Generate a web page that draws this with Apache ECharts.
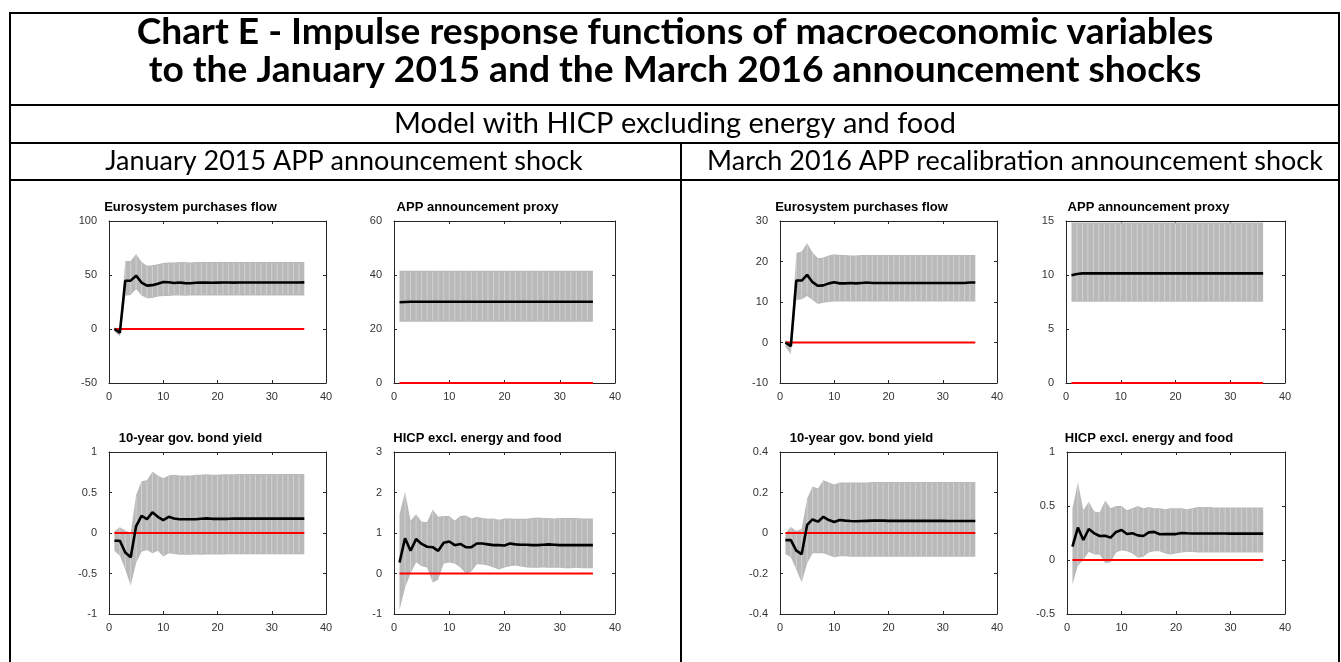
<!DOCTYPE html>
<html>
<head>
<meta charset="utf-8">
<script src="https://cdn.jsdelivr.net/npm/echarts/dist/echarts.min.js"></script>
<style>
  html, body { margin: 0; padding: 0; background: #ffffff; }
  #chart { width: 1341px; height: 662px; }
</style>
</head>
<body>
<div id="chart"></div>
<script>
// Forecast horizon (months after the shock)
const horizon = [1,2,3,4,5,6,7,8,9,10,11,12,13,14,15,16,17,18,19,20,21,22,23,24,25,26,27,28,29,30,31,32,33,34,35,36];

// ---- January 2015 APP announcement shock ----
const janFlowMid = [0,-3.5,44.7,44.8,49.4,43,40.2,40.6,42,43.5,43.3,42.6,43,42.5,42.3,42.8,43,42.9,42.8,42.9,43,43,42.9,43,43,43,43,43,43,43,43,43,43,43,43,43.2];
const janFlowHi  = [1.5,0.5,63,63,69.5,62,58.5,59,60,61,61.5,61.5,62,62,61.5,62,62,62,62,62,62,62,62,62,62,62,62,62,62,62,62,62,62,62,62,62];
const janFlowLo  = [-2,-7,30.8,31.5,37,31,28.4,28.8,30,30.5,30.5,31,31,30.8,31,31,31,31,31,31,31,31,31,31,31,31,31,31,31,31,31,31,31,31,31,31];

const janProxyMid = [29.9,30,30.1,30.1,30.1,30.1,30.1,30.1,30.1,30.1,30.1,30.1,30.1,30.1,30.1,30.1,30.1,30.1,30.1,30.1,30.1,30.1,30.1,30.1,30.1,30.1,30.1,30.1,30.1,30.1,30.1,30.1,30.1,30.1,30.1,30.1];
const janProxyHi  = [41.6,41.6,41.6,41.6,41.6,41.6,41.6,41.6,41.6,41.6,41.6,41.6,41.6,41.6,41.6,41.6,41.6,41.6,41.6,41.6,41.6,41.6,41.6,41.6,41.6,41.6,41.6,41.6,41.6,41.6,41.6,41.6,41.6,41.6,41.6,41.6];
const janProxyLo  = [22.7,22.7,22.7,22.7,22.7,22.7,22.7,22.7,22.7,22.7,22.7,22.7,22.7,22.7,22.7,22.7,22.7,22.7,22.7,22.7,22.7,22.7,22.7,22.7,22.7,22.7,22.7,22.7,22.7,22.7,22.7,22.7,22.7,22.7,22.7,22.7];

const janYieldMid = [-0.095,-0.095,-0.24,-0.30,0.086,0.21,0.17,0.255,0.20,0.16,0.20,0.18,0.17,0.17,0.17,0.17,0.175,0.18,0.175,0.175,0.175,0.175,0.177,0.177,0.177,0.177,0.177,0.177,0.177,0.177,0.177,0.177,0.177,0.177,0.177,0.177];
const janYieldHi  = [0.02,0.07,0.03,0.0,0.47,0.64,0.65,0.757,0.71,0.675,0.71,0.72,0.71,0.71,0.71,0.72,0.72,0.725,0.72,0.72,0.725,0.725,0.725,0.728,0.728,0.728,0.728,0.728,0.728,0.728,0.728,0.728,0.728,0.728,0.728,0.728];
const janYieldLo  = [-0.22,-0.28,-0.45,-0.65,-0.37,-0.23,-0.21,-0.25,-0.22,-0.29,-0.25,-0.26,-0.27,-0.27,-0.27,-0.265,-0.27,-0.265,-0.265,-0.265,-0.265,-0.263,-0.263,-0.263,-0.263,-0.263,-0.263,-0.263,-0.263,-0.263,-0.263,-0.263,-0.263,-0.263,-0.263,-0.263];

const janHicpMid = [0.27,0.87,0.56,0.85,0.73,0.66,0.65,0.56,0.76,0.79,0.70,0.73,0.65,0.65,0.74,0.74,0.72,0.70,0.70,0.69,0.74,0.72,0.71,0.71,0.70,0.70,0.71,0.72,0.71,0.70,0.70,0.70,0.70,0.70,0.70,0.70];
const janHicpHi  = [1.46,2.02,1.30,1.46,1.28,1.27,1.58,1.40,1.42,1.42,1.30,1.42,1.43,1.36,1.40,1.37,1.35,1.36,1.33,1.36,1.36,1.35,1.35,1.35,1.37,1.38,1.37,1.37,1.36,1.37,1.37,1.37,1.37,1.36,1.36,1.36];
const janHicpLo  = [-0.90,-0.35,0.0,0.28,0.18,0.15,-0.23,-0.15,0.25,0.27,0.25,0.15,0.0,0.05,0.23,0.22,0.20,0.15,0.10,0.15,0.18,0.20,0.17,0.15,0.14,0.14,0.15,0.14,0.14,0.14,0.13,0.13,0.14,0.13,0.13,0.13];

// ---- March 2016 APP recalibration announcement shock ----
const marFlowMid = [0,-0.9,15.3,15.3,16.7,14.9,14.0,14.1,14.6,14.9,14.6,14.6,14.7,14.6,14.7,14.8,14.7,14.7,14.7,14.7,14.7,14.7,14.7,14.7,14.7,14.7,14.7,14.7,14.7,14.7,14.7,14.7,14.7,14.7,14.8,14.8];
const marFlowHi  = [0.5,0.2,22.1,22.5,24.5,22.2,20.8,21.0,21.5,21.8,21.6,21.6,21.5,21.5,21.6,21.6,21.6,21.6,21.6,21.6,21.6,21.6,21.6,21.6,21.6,21.6,21.6,21.6,21.6,21.6,21.6,21.6,21.6,21.6,21.6,21.6];
const marFlowLo  = [-1,-2.9,10.5,10.7,11.5,10.5,9.5,9.8,10.0,10.1,10.1,10.1,10.1,10.1,10.1,10.1,10.1,10.1,10.1,10.1,10.1,10.1,10.1,10.1,10.1,10.1,10.1,10.1,10.1,10.1,10.1,10.1,10.1,10.1,10.1,10.1];

const marProxyMid = [9.97,10.1,10.15,10.15,10.15,10.15,10.15,10.15,10.15,10.15,10.15,10.15,10.15,10.15,10.15,10.15,10.15,10.15,10.15,10.15,10.15,10.15,10.15,10.15,10.15,10.15,10.15,10.15,10.15,10.15,10.15,10.15,10.15,10.15,10.15,10.15];
const marProxyHi  = [14.85,14.85,14.85,14.85,14.85,14.85,14.85,14.85,14.85,14.85,14.85,14.85,14.85,14.85,14.85,14.85,14.85,14.85,14.85,14.85,14.85,14.85,14.85,14.85,14.85,14.85,14.85,14.85,14.85,14.85,14.85,14.85,14.85,14.85,14.85,14.85];
const marProxyLo  = [7.53,7.53,7.53,7.53,7.53,7.53,7.53,7.53,7.53,7.53,7.53,7.53,7.53,7.53,7.53,7.53,7.53,7.53,7.53,7.53,7.53,7.53,7.53,7.53,7.53,7.53,7.53,7.53,7.53,7.53,7.53,7.53,7.53,7.53,7.53,7.53];

const marYieldMid = [-0.035,-0.035,-0.087,-0.104,0.04,0.067,0.056,0.08,0.064,0.054,0.064,0.061,0.059,0.058,0.059,0.06,0.061,0.062,0.061,0.06,0.06,0.06,0.06,0.06,0.06,0.06,0.06,0.06,0.06,0.06,0.059,0.059,0.059,0.059,0.059,0.059];
const marYieldHi  = [0.0,0.03,0.01,0.02,0.17,0.23,0.22,0.26,0.25,0.24,0.25,0.25,0.25,0.25,0.25,0.25,0.252,0.252,0.252,0.252,0.252,0.252,0.252,0.252,0.252,0.252,0.252,0.252,0.252,0.252,0.252,0.252,0.252,0.252,0.252,0.252];
const marYieldLo  = [-0.104,-0.12,-0.18,-0.245,-0.15,-0.10,-0.10,-0.10,-0.11,-0.12,-0.115,-0.115,-0.117,-0.117,-0.117,-0.117,-0.117,-0.117,-0.117,-0.117,-0.117,-0.117,-0.117,-0.117,-0.117,-0.117,-0.117,-0.117,-0.117,-0.117,-0.117,-0.117,-0.117,-0.117,-0.117,-0.117];

const marHicpMid = [0.123,0.30,0.185,0.287,0.247,0.222,0.225,0.207,0.26,0.278,0.24,0.247,0.228,0.222,0.256,0.26,0.238,0.24,0.24,0.24,0.25,0.247,0.245,0.245,0.245,0.246,0.245,0.245,0.245,0.244,0.244,0.244,0.244,0.244,0.244,0.244];
const marHicpHi  = [0.478,0.72,0.46,0.54,0.45,0.44,0.55,0.48,0.50,0.50,0.46,0.48,0.50,0.48,0.49,0.48,0.48,0.47,0.48,0.48,0.48,0.47,0.48,0.49,0.49,0.49,0.485,0.485,0.485,0.485,0.485,0.485,0.485,0.485,0.485,0.485];
const marHicpLo  = [-0.225,-0.05,0.0,0.077,0.05,0.05,-0.03,-0.02,0.07,0.09,0.08,0.06,0.02,0.03,0.07,0.08,0.08,0.06,0.05,0.06,0.07,0.075,0.075,0.07,0.07,0.07,0.07,0.07,0.07,0.07,0.07,0.07,0.07,0.07,0.07,0.07];

// Panel titles and y-axis scales
const panelTitles = ['Eurosystem purchases flow','APP announcement proxy','10-year gov. bond yield','HICP excl. energy and food'];
const janYMin = [-50, 0, -1, -1],   janYMax = [100, 60, 1, 3],    janYStep = [50, 20, 0.5, 1];
const marYMin = [-10, 0, -0.4, -0.5], marYMax = [30, 15, 0.4, 1], marYStep = [10, 5, 0.2, 0.5];
const xMin = 0, xMax = 40, xStep = 10;

// Header texts
const chartTitle = ['Chart E - Impulse response functions of macroeconomic variables',
                    'to the January 2015 and the March 2016 announcement shocks'];
const modelLabel = 'Model with HICP excluding energy and food';
const shockLabels = ['January 2015 APP announcement shock', 'March 2016 APP recalibration announcement shock'];

// ---------------------------------------------------------------------------
const panels = [
  { t: panelTitles[0], min: janYMin[0], max: janYMax[0], step: janYStep[0], mid: janFlowMid,  hi: janFlowHi,  lo: janFlowLo },
  { t: panelTitles[1], min: janYMin[1], max: janYMax[1], step: janYStep[1], mid: janProxyMid, hi: janProxyHi, lo: janProxyLo },
  { t: panelTitles[2], min: janYMin[2], max: janYMax[2], step: janYStep[2], mid: janYieldMid, hi: janYieldHi, lo: janYieldLo },
  { t: panelTitles[3], min: janYMin[3], max: janYMax[3], step: janYStep[3], mid: janHicpMid,  hi: janHicpHi,  lo: janHicpLo },
  { t: panelTitles[0], min: marYMin[0], max: marYMax[0], step: marYStep[0], mid: marFlowMid,  hi: marFlowHi,  lo: marFlowLo },
  { t: panelTitles[1], min: marYMin[1], max: marYMax[1], step: marYStep[1], mid: marProxyMid, hi: marProxyHi, lo: marProxyLo },
  { t: panelTitles[2], min: marYMin[2], max: marYMax[2], step: marYStep[2], mid: marYieldMid, hi: marYieldHi, lo: marYieldLo },
  { t: panelTitles[3], min: marYMin[3], max: marYMax[3], step: marYStep[3], mid: marHicpMid,  hi: marHicpHi,  lo: marHicpLo }
];

// plot boxes: [left, top, width, height]
const boxes = [
  [109, 221, 217, 162], [394, 221, 221, 162],
  [109, 452, 217, 162], [394, 452, 221, 162],
  [780, 221, 217, 162], [1066, 221, 219, 162],
  [780, 452, 217, 162], [1067, 452, 218, 162]
];

const AXIS_COLOR = '#262626';
const LABEL_FONT = '"Liberation Sans", Arial, sans-serif';
const HEAD_FONT = 'Lato, "Open Sans", sans-serif';

function fitFont(text, weight, target) {
  const ctx = document.createElement('canvas').getContext('2d');
  ctx.font = weight + ' 100px ' + HEAD_FONT;
  return 100 * target / ctx.measureText(text).width;
}

const grids = [], xAxes = [], yAxes = [], series = [], graphics = [];

panels.forEach((p, i) => {
  const [l, t, w, h] = boxes[i];
  grids.push({ left: l, top: t, width: w, height: h, show: false });

  const axisCommon = {
    gridIndex: i,
    axisLine: { show: true, onZero: false, lineStyle: { color: AXIS_COLOR, width: 1 } },
    axisTick: { show: true, inside: true, length: 3, lineStyle: { color: AXIS_COLOR, width: 1 } },
    splitLine: { show: false }
  };
  const labelStyle = { color: '#333333', fontSize: 11, fontFamily: LABEL_FONT };

  xAxes.push(Object.assign({}, axisCommon, { type: 'value', position: 'bottom', min: xMin, max: xMax, interval: xStep,
    axisLabel: Object.assign({ margin: 8 }, labelStyle) }));
  xAxes.push(Object.assign({}, axisCommon, { type: 'value', position: 'top', min: xMin, max: xMax, interval: xStep,
    axisLabel: { show: false } }));
  yAxes.push(Object.assign({}, axisCommon, { type: 'value', position: 'left', min: p.min, max: p.max, interval: p.step,
    axisLabel: Object.assign({ margin: 12 }, labelStyle) }));
  yAxes.push(Object.assign({}, axisCommon, { type: 'value', position: 'right', min: p.min, max: p.max, interval: p.step,
    axisLabel: { show: false } }));

  const xi = 2 * i, yi = 2 * i;

  // credible band as one polygon (upper bound forward, lower bound backward),
  // with faint light seams at each horizon like overlapping patch edges
  series.push({
    type: 'custom', xAxisIndex: xi, yAxisIndex: yi, silent: true, z: 1,
    data: horizon.map((hz, k) => [hz, p.lo[k], p.hi[k]]),
    renderItem: (params, api) => {
      if (params.dataIndex !== 0) return null;
      const pts = [];
      for (let k = 0; k < horizon.length; k++) pts.push(api.coord([horizon[k], p.hi[k]]));
      for (let k = horizon.length - 1; k >= 0; k--) pts.push(api.coord([horizon[k], p.lo[k]]));
      const children = [{ type: 'polygon', shape: { points: pts }, style: { fill: '#b9b9b9' } }];
      for (let k = 1; k < horizon.length - 1; k++) {
        const a = api.coord([horizon[k], p.hi[k]]);
        const b = api.coord([horizon[k], p.lo[k]]);
        children.push({ type: 'line', shape: { x1: a[0], y1: a[1] + 1, x2: b[0], y2: b[1] - 1 },
          style: { stroke: 'rgba(255,255,255,0.45)', lineWidth: 0.8 } });
      }
      return { type: 'group', children: children };
    }
  });
  // zero reference
  series.push({
    type: 'line', xAxisIndex: xi, yAxisIndex: yi, silent: true, z: 2,
    data: horizon.map(hz => [hz, 0]), showSymbol: false,
    lineStyle: { color: '#ff0000', width: 1.8 }
  });
  // median response
  series.push({
    type: 'line', xAxisIndex: xi, yAxisIndex: yi, silent: true, z: 3,
    data: horizon.map((hz, k) => [hz, p.mid[k]]), showSymbol: false,
    lineStyle: { color: '#000000', width: 2.6 }
  });

  graphics.push({
    type: 'text', x: l + w / 2 - 27, y: t - 14, silent: true,
    style: { text: p.t, fill: '#000000', fontSize: 13, fontWeight: 'bold', fontFamily: LABEL_FONT,
             align: 'center', verticalAlign: 'middle' }
  });
});

// frame of the table
const lineStyle = { stroke: '#000000', lineWidth: 2 };
[[10, 13, 1339, 13], [10, 105, 1339, 105], [10, 143, 1339, 143], [10, 180, 1339, 180],
 [10, 12, 10, 662], [1339, 12, 1339, 662], [681, 143, 681, 662]].forEach(s => {
  graphics.push({ type: 'line', silent: true, shape: { x1: s[0], y1: s[1], x2: s[2], y2: s[3] }, style: lineStyle });
});

const titleSize = (fitFont(chartTitle[0], 'bold', 1060) + fitFont(chartTitle[1], 'bold', 1070)) / 2;
graphics.push({ type: 'text', x: 675, y: 32, silent: true,
  style: { text: chartTitle[0], fill: '#000', fontSize: titleSize, fontWeight: 'bold', fontFamily: HEAD_FONT, align: 'center', verticalAlign: 'middle' } });
graphics.push({ type: 'text', x: 675, y: 70, silent: true,
  style: { text: chartTitle[1], fill: '#000', fontSize: titleSize, fontWeight: 'bold', fontFamily: HEAD_FONT, align: 'center', verticalAlign: 'middle' } });

const subSize = fitFont(modelLabel, 'normal', 562);
graphics.push({ type: 'text', x: 675, y: 124, silent: true,
  style: { text: modelLabel, fill: '#000', fontSize: subSize, fontFamily: HEAD_FONT, align: 'center', verticalAlign: 'middle' } });

const headSize = fitFont(shockLabels[1], 'normal', 616);
graphics.push({ type: 'text', x: 344, y: 161, silent: true,
  style: { text: shockLabels[0], fill: '#000', fontSize: headSize, fontFamily: HEAD_FONT, align: 'center', verticalAlign: 'middle' } });
graphics.push({ type: 'text', x: 1015, y: 161, silent: true,
  style: { text: shockLabels[1], fill: '#000', fontSize: headSize, fontFamily: HEAD_FONT, align: 'center', verticalAlign: 'middle' } });

const chart = echarts.init(document.getElementById('chart'), null, { renderer: 'canvas' });
chart.setOption({
  animation: false,
  backgroundColor: '#ffffff',
  grid: grids,
  xAxis: xAxes,
  yAxis: yAxes,
  series: series,
  graphic: { elements: graphics }
});
</script>
</body>
</html>
